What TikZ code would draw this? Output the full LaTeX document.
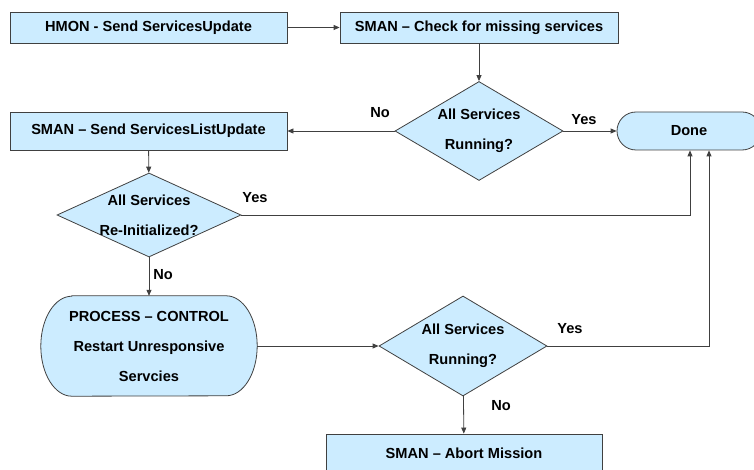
\documentclass[tikz,border=0pt]{standalone}
\usepackage{fontspec}
\setmainfont{Liberation Sans}
\usetikzlibrary{shapes.geometric,arrows.meta}
\definecolor{boxfill}{HTML}{CCECFF}
\definecolor{edge}{HTML}{404040}
\tikzset{
  every node/.style={font=\bfseries\fontsize{14.6}{30}\selectfont},
  procbox/.style={draw=edge, fill=boxfill, line width=0.8pt, rectangle, inner sep=0pt},
  decision/.style={draw=edge, fill=boxfill, line width=0.8pt, diamond, inner sep=0pt},
  qtext/.style={align=center, inner sep=0pt},
  termbox/.style={draw=edge, fill=boxfill, line width=0.8pt, rectangle, rounded corners=19pt, inner sep=0pt},
  flow/.style={draw=edge, line width=0.8pt, -{Triangle[length=6pt,width=5pt]}},
  lbl/.style={inner sep=0pt}
}
\begin{document}
\begin{tikzpicture}[x=1pt,y=1pt]
\useasboundingbox (0,0) rectangle (754,469);
\clip (0,0) rectangle (754,469);

% boxes
\node[procbox, minimum width=277pt, minimum height=31pt] (hmon) at (148.5,441.5) {HMON - Send ServicesUpdate};
\node[procbox, minimum width=278pt, minimum height=31pt] (check) at (479,441.5) {SMAN -- Check for missing services};
\node[procbox, minimum width=277pt, minimum height=38pt] (list) at (148.5,338) {SMAN -- Send ServicesListUpdate};
\node[procbox, minimum width=276pt, minimum height=38pt] (abort) at (464,16) {SMAN -- Abort Mission};

% terminator
\node[termbox, minimum width=144pt, minimum height=38pt] (done) at (689,338) {Done};

% decisions (outline first, question text on top)
\node[decision, minimum width=168pt, minimum height=99pt] (run1) at (479,338) {};
\node[qtext] at (run1) {All Services\\Running?};
\node[decision, minimum width=184pt, minimum height=84pt] (reinit) at (149,254) {};
\node[qtext] at (reinit) {All Services\\Re-Initialized?};
\node[decision, minimum width=168pt, minimum height=100pt] (run2) at (463,123) {};
\node[qtext] at (run2) {All Services\\Running?};

% restart step with elliptical ends
\node[minimum width=216pt, minimum height=100pt, inner sep=0pt] (proc) at (149,123) {};
\path[draw=edge, fill=boxfill, line width=0.8pt]
  ([xshift=31pt]proc.north west) -- ([xshift=-31pt]proc.north east)
  arc[start angle=90, end angle=-90, x radius=31pt, y radius=50pt]
  -- ([xshift=31pt]proc.south west)
  arc[start angle=270, end angle=90, x radius=31pt, y radius=50pt] -- cycle;
\node[qtext] at (proc) {PROCESS -- CONTROL\\Restart Unresponsive\\Servcies};

% connectors
\draw[flow] (hmon) -- (check);
\draw[flow] (check) -- (run1);
\draw[flow] (run1) -- (list);
\draw[flow] (run1) -- (done);
\draw[flow] (list) -- (reinit);
\draw[flow] (reinit.east) -| ([xshift=1pt]done.south);
\draw[flow] (reinit) -- (proc);
\draw[flow] (proc) -- (run2);
\draw[flow] (run2.east) -| ([xshift=20pt]done.south);
\draw[flow] (run2) -- (abort);

% branch labels
\node[lbl] (l1) at (380,356) {No};
\node[lbl] (l2) at (584,349) {Yes};
\node[lbl] (l3) at (255,271) {Yes};
\node[lbl] (l4) at (163,194) {No};
\node[lbl] (l5) at (570,140) {Yes};
\node[lbl] (l6) at (501,63) {No};
\end{tikzpicture}
\end{document}
